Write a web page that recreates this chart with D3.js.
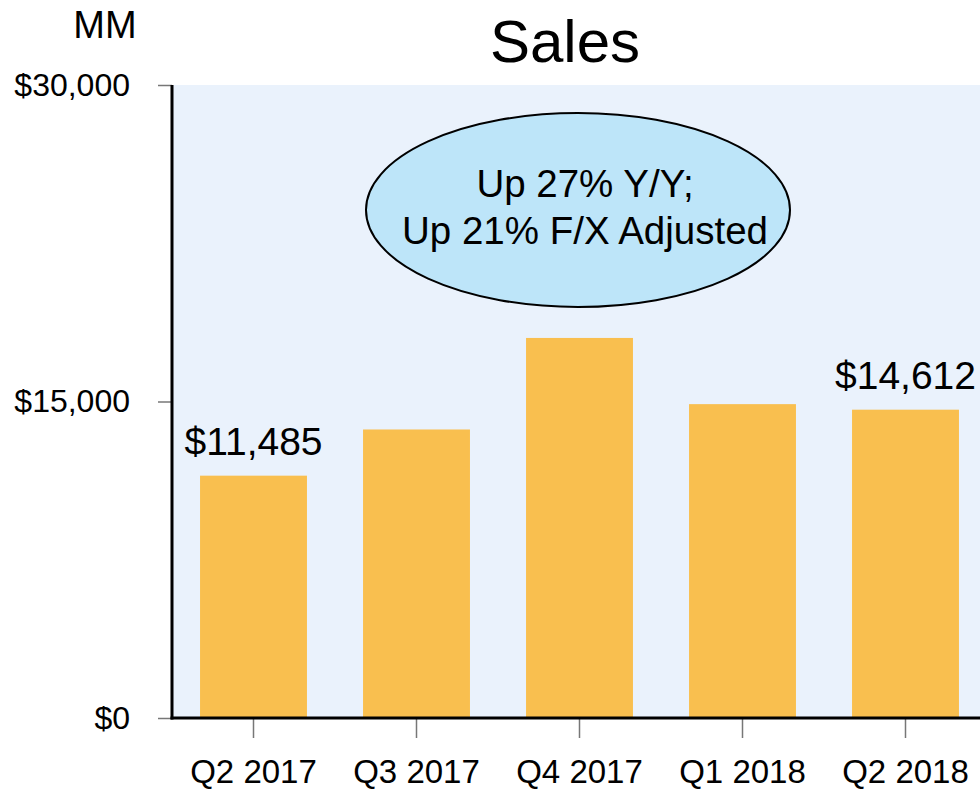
<!DOCTYPE html>
<html>
<head>
<meta charset="utf-8">
<script src="https://cdn.jsdelivr.net/npm/d3@7"></script>
<style>
  html, body { margin: 0; padding: 0; background: #ffffff; }
  svg { display: block; }
  text { font-family: "Liberation Sans", Arial, Helvetica, sans-serif; fill: #000; }
</style>
</head>
<body>
<svg id="chart" width="980" height="789"></svg>
<script>
const categories = ["Q2 2017", "Q3 2017", "Q4 2017", "Q1 2018", "Q2 2018"];
const sales = [11485, 13674, 18012, 14875, 14612];
const barLabels = ["$11,485", null, null, null, "$14,612"];
const yTicks = [0, 15000, 30000];
const yTickLabels = ["$0", "$15,000", "$30,000"];
const title = "Sales";
const unitLabel = "MM";
const calloutLines = ["Up 27% Y/Y;", "Up 21% F/X Adjusted"];

(function () {
const svg = d3.select("#chart");
const W = 980, H = 789;
const pL = 172, pR = 987, pT = 85, pB = 718;

const x = d3.scaleBand().domain(categories).range([pL, pR])
  .paddingInner(0.344).paddingOuter(0.172);
const y = d3.scaleLinear().domain([0, 30000]).range([pB, pT]);

// plot background
svg.append("rect")
  .attr("x", pL + 1).attr("y", pT)
  .attr("width", W - pL - 1).attr("height", pB - pT)
  .attr("fill", "#EAF2FC");

// bars
svg.append("g").selectAll("rect").data(sales).join("rect")
  .attr("x", (d, i) => x(categories[i]))
  .attr("y", d => y(d))
  .attr("width", x.bandwidth())
  .attr("height", d => y(0) - y(d))
  .attr("fill", "#F9BF4F");

// bar value labels
svg.append("g").selectAll("text").data(sales.map((v, i) => ({v, i, t: barLabels[i]})).filter(d => d.t))
  .join("text")
  .attr("x", d => x(categories[d.i]) + x.bandwidth() / 2)
  .attr("y", d => y(d.v) - 21)
  .attr("text-anchor", "middle")
  .attr("font-size", 39)
  .text(d => d.t);

// y axis
const yAxis = d3.axisLeft(y).tickValues(yTicks).tickSize(14)
  .tickFormat((d, i) => yTickLabels[i]).tickPadding(28);
const gy = svg.append("g").attr("transform", `translate(${pL},0)`).call(yAxis);
gy.select(".domain").remove();
gy.selectAll(".tick line").attr("stroke", "#777").attr("stroke-width", 1.5);
gy.selectAll(".tick text").attr("font-size", 32).attr("font-family", '"Liberation Sans", Arial, sans-serif').attr("fill", "#000");
svg.append("line").attr("x1", pL).attr("x2", pL).attr("y1", pT).attr("y2", pB + 1.5)
  .attr("stroke", "#000").attr("stroke-width", 3);

// x axis
const xAxis = d3.axisBottom(x).tickSize(20).tickPadding(22);
const gx = svg.append("g").attr("transform", `translate(0,${pB})`).call(xAxis);
gx.select(".domain").remove();
gx.selectAll(".tick line").attr("stroke", "#777").attr("stroke-width", 1.5);
gx.selectAll(".tick text").attr("font-size", 33).attr("font-family", '"Liberation Sans", Arial, sans-serif').attr("fill", "#000");
svg.append("line").attr("x1", pL - 1.5).attr("x2", W).attr("y1", pB).attr("y2", pB)
  .attr("stroke", "#000").attr("stroke-width", 3);

// title & unit
svg.append("text").attr("x", 565).attr("y", 62).attr("text-anchor", "middle")
  .attr("font-size", 60).text(title);
svg.append("text").attr("x", 105).attr("y", 38).attr("text-anchor", "middle")
  .attr("font-size", 38).text(unitLabel);

// callout ellipse
svg.append("ellipse").attr("cx", 578).attr("cy", 210).attr("rx", 212).attr("ry", 97)
  .attr("fill", "#BDE5F9").attr("stroke", "#000").attr("stroke-width", 2);
svg.append("g").selectAll("text").data(calloutLines).join("text")
  .attr("x", 585).attr("y", (d, i) => 197 + i * 47)
  .attr("text-anchor", "middle").attr("font-size", 38.5).text(d => d);
})();
</script>
</body>
</html>
